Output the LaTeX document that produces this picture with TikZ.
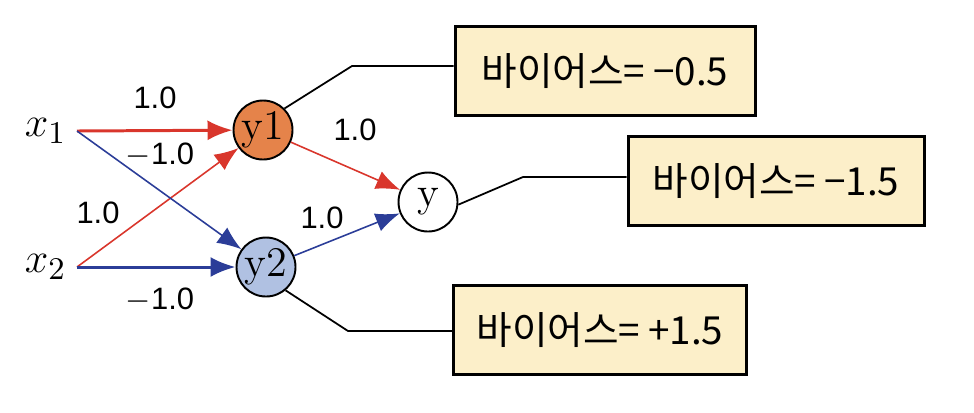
\documentclass[tikz,border=0pt]{standalone}
\usepackage{fontspec}
\usepackage{amsmath}
\usepackage{tikz}
\usepackage{xcolor}
\usetikzlibrary{arrows.meta}
\newfontfamily\krfont{Noto Sans CJK KR}
\newfontfamily\numfont{Liberation Sans}
\definecolor{wred}{HTML}{D9362C}
\definecolor{wblue}{HTML}{2B3D98}
\definecolor{nodeorange}{HTML}{E5834A}
\definecolor{nodeblue}{HTML}{B0C1E2}
\definecolor{biasfill}{HTML}{FCEFC9}

\begin{document}
\begin{tikzpicture}[
    unit/.style={circle, draw=black, line width=0.55pt, minimum size=0.59cm, inner sep=0pt, font=\fontsize{12}{12}\selectfont},
    wlabel/.style={font=\numfont\fontsize{8.8}{10}\selectfont, inner sep=0pt},
    biasbox/.style={draw=black, line width=0.85pt, fill=biasfill, minimum height=0.89cm, font=\krfont\fontsize{11}{12}\selectfont},
    thickarrow/.style={line width=0.85pt, -{Latex[length=0.25cm, width=0.2cm]}},
    thinarrow/.style={line width=0.45pt, -{Latex[length=0.24cm, width=0.19cm]}},
    biasline/.style={line width=0.5pt, black}
  ]
                \useasboundingbox (0,0) rectangle (9.74,4.12);
                % input and hidden units
                \node[anchor=east, inner sep=0.1cm, font=\fontsize{13}{13}\selectfont] (x1) at (0.77,2.81) {$x_1$};
                \node[anchor=east, inner sep=0.1cm, font=\fontsize{13}{13}\selectfont] (x2) at (0.77,1.45) {$x_2$};
                \node[unit, fill=nodeorange] (y1) at (2.63,2.82) {y1};
                \node[unit, fill=nodeblue] (y2) at (2.66,1.45) {y2};
                \node[unit, fill=white] (y) at (4.28,2.10) {y};
                % weights
                \draw[thickarrow, wred] (x1.east) -- (y1);
                \draw[thinarrow, wred] (x2.east) -- (y1);
                \draw[thinarrow, wblue] (x1.east) -- (y2);
                \draw[thickarrow, wblue] (x2.east) -- (y2);
                \draw[thinarrow, wred] (y1) -- (y);
                \draw[thinarrow, wblue] (y2) -- (y);
                \node[wlabel] (w11) at (1.55,3.14) {1.0};
                \node[wlabel] (w12) at (1.60,2.57) {$-$1.0};
                \node[wlabel] (w21) at (0.98,1.99) {1.0};
                \node[wlabel] (w22) at (1.60,1.12) {$-$1.0};
                \node[wlabel] (w1y) at (3.55,2.82) {1.0};
                \node[wlabel] (w2y) at (3.22,1.94) {1.0};
                % biases
                \node[biasbox, minimum width=3.00cm] (b1) at (6.05,3.41) {바이어스=\hspace{0.08cm}−0.5};
                \node[biasbox, minimum width=2.96cm] (b2) at (7.76,2.31) {바이어스=\hspace{0.08cm}−1.5};
                \node[biasbox, minimum width=2.93cm] (b3) at (6.00,0.82) {바이어스=\hspace{0.08cm}+1.5};
                \coordinate (k1) at (3.52,3.46);
                \coordinate (k2) at (5.23,2.35);
                \coordinate (k3) at (3.48,0.81);
                \draw[biasline] (y1.45) -- (k1) -- (k1 -| b1.west);
                \draw[biasline] (y.-5) -- (k2) -- (k2 -| b2.west);
                \draw[biasline] (y2.-50) -- (k3) -- (k3 -| b3.west);
            \end{tikzpicture}
\end{document}
